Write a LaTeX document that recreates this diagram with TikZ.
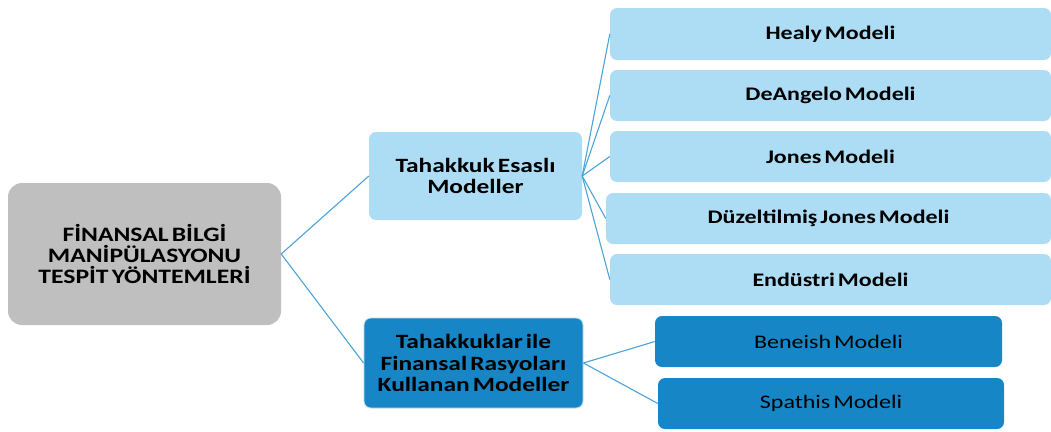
\documentclass[tikz,border=0pt]{standalone}
\usepackage{fontspec}
\setmainfont{Carlito}[FakeStretch=1.25,WordSpace=0.55]
\definecolor{lightb}{HTML}{ADDDF5}
\definecolor{darkb}{HTML}{1686C6}
\definecolor{grayb}{HTML}{BFBFBF}
\definecolor{linec}{HTML}{4BA3D8}
\begin{document}
\begin{tikzpicture}[x=1pt,y=-1pt,
  box/.style={rounded corners=7pt,inner sep=0pt,align=center,text=black,font=\fontsize{19.2}{22}\selectfont\bfseries},
  lbox/.style={box,fill=lightb},
  dbox/.style={box,fill=darkb},
  midf/.style={font=\fontsize{20.3}{21.5}\selectfont\bfseries},
  conn/.style={draw=linec,line width=1.1pt}]
\useasboundingbox (0,0) rectangle (1051,431);
\node[box,midf,fill=grayb,rounded corners=14pt,minimum width=273pt,minimum height=142pt,font=\fontsize{20.5}{21}\selectfont\bfseries] (root) at (144.5,254) {FİNANSAL BİLGİ\\MANİPÜLASYONU\\TESPİT YÖNTEMLERİ};
\node[lbox,midf,minimum width=213pt,minimum height=88pt] (te) at (475.5,176) {Tahakkuk Esaslı\\Modeller};
\node[dbox,midf,minimum width=219pt,minimum height=90pt,draw=white!70!darkb,line width=0.8pt] (tk) at (473.5,363) {Tahakkuklar ile\\Finansal Rasyoları\\Kullanan Modeller};
\node[lbox,minimum width=441pt,minimum height=52pt] (h) at (830.5,34) {Healy Modeli};
\node[lbox,minimum width=441pt,minimum height=51pt] (d) at (830.5,95.5) {DeAngelo Modeli};
\node[lbox,minimum width=441pt,minimum height=51pt] (j) at (830.5,156.5) {Jones Modeli};
\node[lbox,minimum width=445pt,minimum height=51pt] (dz) at (828.5,218.5) {Düzeltilmiş Jones Modeli};
\node[lbox,minimum width=441pt,minimum height=51pt] (e) at (830.5,279.5) {Endüstri Modeli};
\node[dbox,minimum width=347pt,minimum height=51pt,font=\fontsize{19.2}{22}\selectfont] (b) at (828.5,341.5) {Beneish Modeli};
\node[dbox,minimum width=346pt,minimum height=51pt,font=\fontsize{19.2}{22}\selectfont] (s) at (831,403.5) {Spathis Modeli};
\draw[conn] (root.east) -- (te.west);
\draw[conn] (root.east) -- (tk.west);
\foreach \n in {h,d,j,dz,e}{\draw[conn] (te.east) -- (\n.west);}
\draw[conn] (tk.east) -- (b.west);
\draw[conn] (tk.east) -- (s.west);
\end{tikzpicture}
\end{document}
